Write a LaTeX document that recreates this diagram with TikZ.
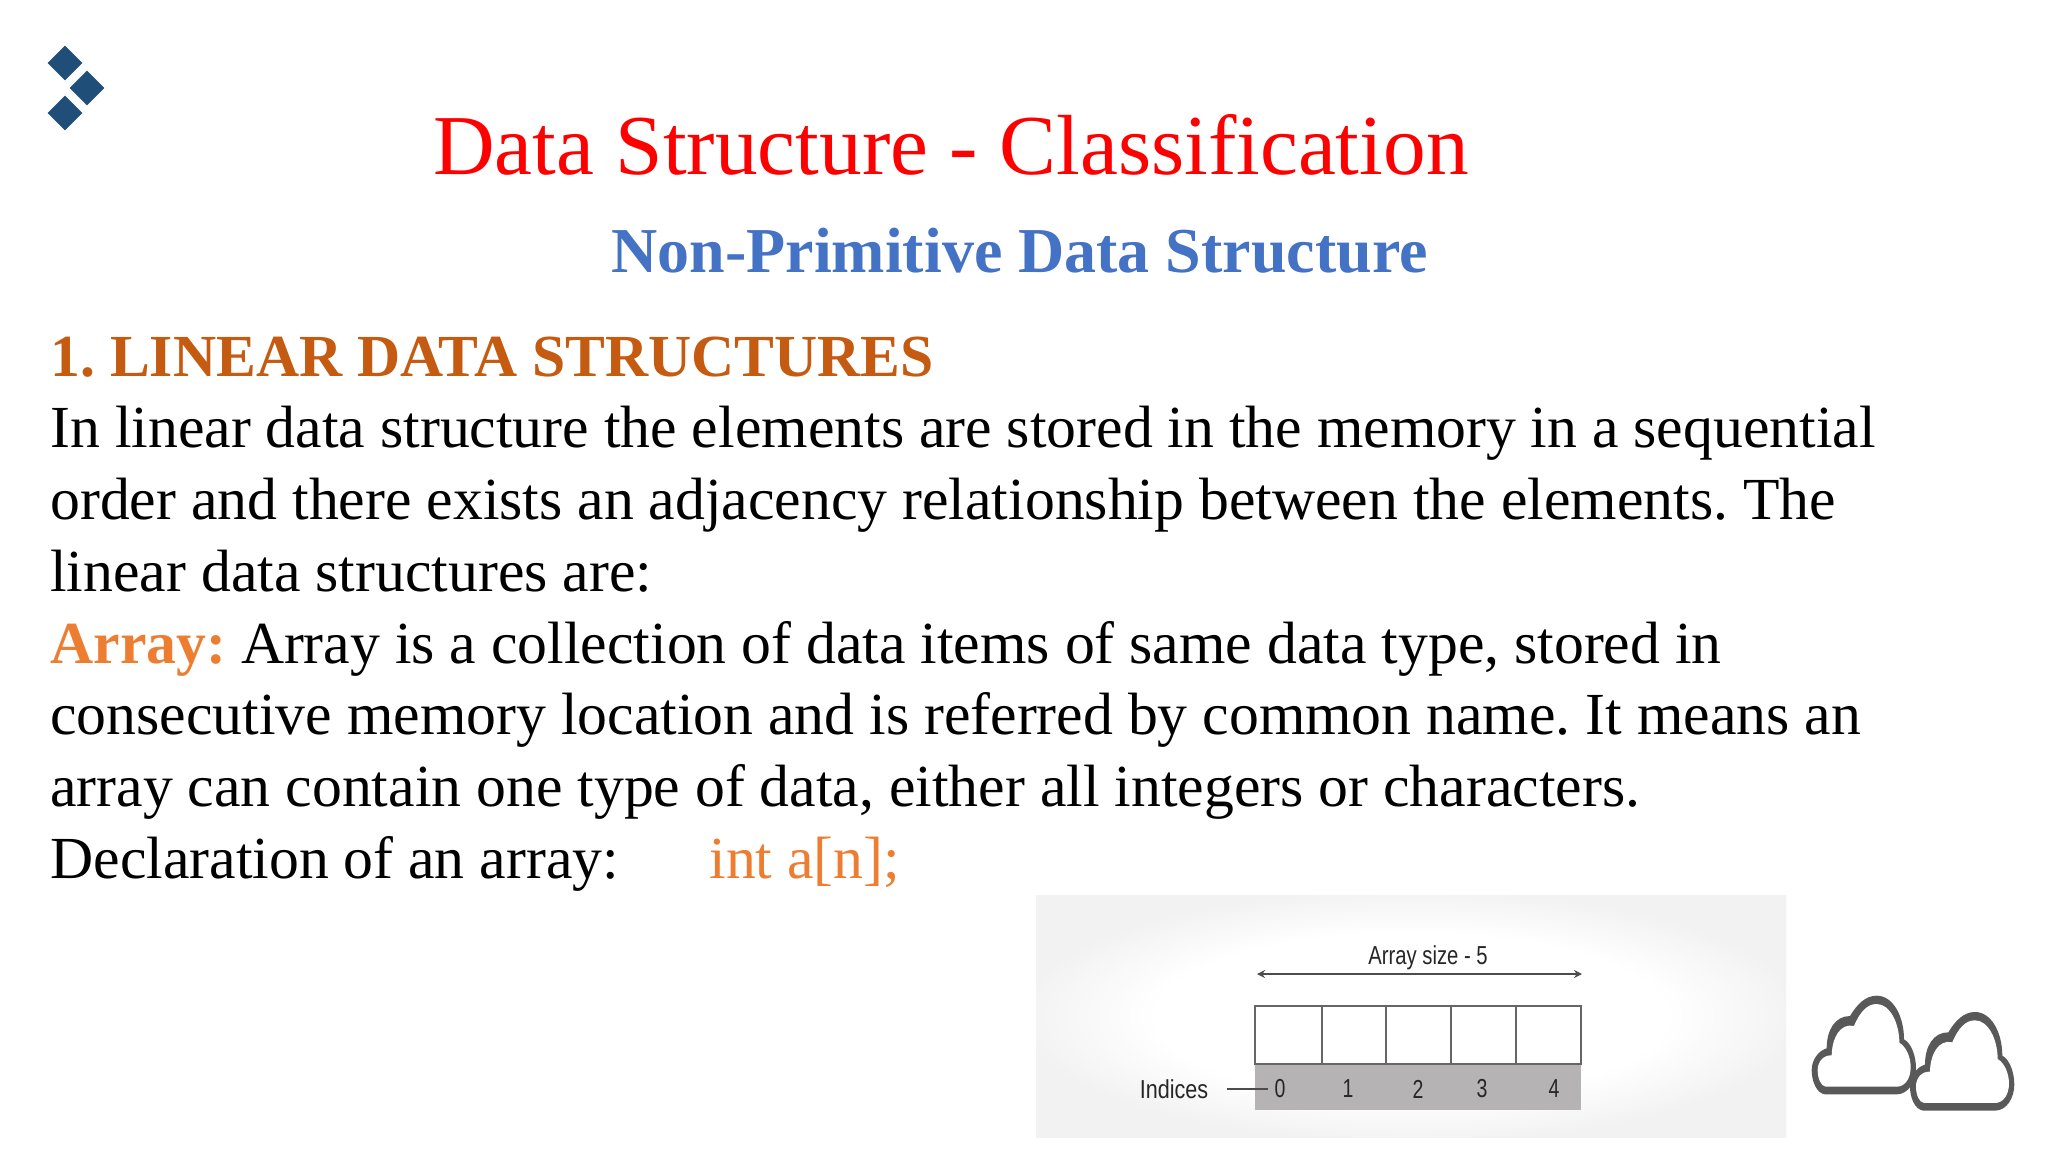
\documentclass[tikz,border=0pt]{standalone}
\usepackage{graphicx}
\usepackage{fontspec}
\setmainfont{Liberation Serif}
\newfontfamily\figfont{Liberation Sans}
\usetikzlibrary{shapes.geometric,arrows.meta}
\frenchspacing

\definecolor{titlered}{HTML}{FF0000}
\definecolor{subblue}{HTML}{4472C4}
\definecolor{headbrown}{HTML}{C55A11}
\definecolor{arrayorange}{HTML}{ED7D31}
\definecolor{logoblue}{HTML}{1F4E79}
\definecolor{bandgrey}{HTML}{B5B3B3}
\definecolor{cloudgrey}{HTML}{595959}

\newcommand{\narrow}[2][.83]{\scalebox{#1}[1]{#2}}
\pgfdeclareradialshading{panelglow}{\pgfpoint{0bp}{0bp}}{color(0bp)=(white);color(17bp)=(white);color(26bp)=(black!5);color(50bp)=(black!5)}

\tikzset{
  line/.style={anchor=base west,inner sep=0pt,font=\fontsize{29.85}{35}\selectfont},
  logomark/.style={diamond,fill=logoblue,inner sep=0pt,minimum size=17.5pt},
  cell/.style={draw=black!60,line width=.8pt,fill=white,inner sep=0pt,minimum height=29pt},
  figlabel/.style={inner sep=0pt,text=black!85,font=\figfont\fontsize{13}{15}\selectfont},
  cloudicon/.pic={
    \fill[cloudgrey] (135,343) .. controls (110,340) and (95,305) .. (95,270)
      .. controls (95,240) and (115,212) .. (140,205)
      .. controls (140,150) and (165,108) .. (210,108)
      .. controls (230,75) and (255,47) .. (290,47)
      .. controls (340,47) and (372,110) .. (372,178)
      .. controls (395,190) and (408,230) .. (408,265)
      .. controls (408,305) and (385,343) .. (350,343) -- cycle;
    \fill[white] (137,320) .. controls (122,318) and (113,295) .. (113,270)
      .. controls (113,245) and (130,225) .. (155,226)
      .. controls (156,175) and (180,128) .. (222,138)
      .. controls (240,95) and (262,72) .. (290,72)
      .. controls (330,72) and (358,130) .. (358,188)
      .. controls (378,200) and (392,230) .. (392,262)
      .. controls (392,295) and (375,320) .. (350,320) -- cycle;
  }
}

\begin{document}
\begin{tikzpicture}[x=.5pt,y=-.5pt]
  \useasboundingbox (0,0) rectangle (2048,1152);

  \node[logomark] (marktop) at (65,63) {};
  \node[logomark] (markmid) at (87,88) {};
  \node[logomark] (markbot) at (65,113) {};

  \node[line,text=titlered,font=\fontsize{42.65}{50}\selectfont] (title) at (433,174) {Data Structure - Classification};
  \node[line,text=subblue,font=\bfseries\fontsize{32}{37}\selectfont] (subtitle) at (611,272) {Non-Primitive Data Structure};
  \node[line,text=headbrown,font=\bfseries\fontsize{29.85}{35}\selectfont] (heading) at (50,376) {1. LINEAR DATA STRUCTURES};

  \node[line] (l1) at (50,447) {In linear data structure the elements are stored in the memory in a sequential};
  \node[line] (l2) at (50,519) {order and there exists an adjacency relationship between the elements. The};
  \node[line] (l3) at (50,591) {linear data structures are:};
  \node[line] (l4) at (50,663) {\textcolor{arrayorange}{\textbf{Array:}} Array is a collection of data items of same data type, stored in};
  \node[line] (l5) at (50,734) {consecutive memory location and is referred by common name. It means an};
  \node[line] (l6) at (50,806) {array can contain one type of data, either all integers or characters.};
  \node[line] (l7) at (50,878) {Declaration of an array:};
  \node[line,text=arrayorange] (decl) at (709,878) {int a[n];};

  % array figure
  \shade[shading=panelglow] (1036,895) rectangle (1786,1137);
  \fill[bandgrey] (1255,1064) rectangle (1581,1110);
  \foreach \name/\xa/\cw in {cell0/1288.5/33.5,cell1/1354/32,cell2/1418.5/32.5,cell3/1483.5/32.5,cell4/1548.5/32.5}
    \node[cell,minimum width=\cw pt] (\name) at (\xa,1035) {};

  \coordinate (sizeleft) at (1257,974);
  \coordinate (sizeright) at (1582,974);
  \draw[{Stealth[length=4pt,width=4pt]}-{Stealth[length=4pt,width=4pt]},line width=.8pt,draw=black!70] (sizeleft) -- (sizeright);
  \node[figlabel] (arraysize) at (1428,958) {\narrow[.78]{Array size - 5}};

  \node[figlabel] (indices) at (1174,1089) {\narrow{Indices}};
  \foreach \name/\xa/\val in {idx0/1280/0,idx1/1348/1,idx2/1418/2,idx3/1482/3,idx4/1554/4}
    \node[figlabel] (\name) at (\xa,1089) {\narrow[.75]{\val}};
  \draw[line width=.6pt,draw=black!70,shorten <=9pt,shorten >=3pt] (indices) -- (idx0);

  \pic[scale=.3333] (cloudback) at (1780,980) {cloudicon};
  \pic[scale=.3333] (cloudfront) at (1878.3,996.3) {cloudicon};
\end{tikzpicture}
\end{document}
